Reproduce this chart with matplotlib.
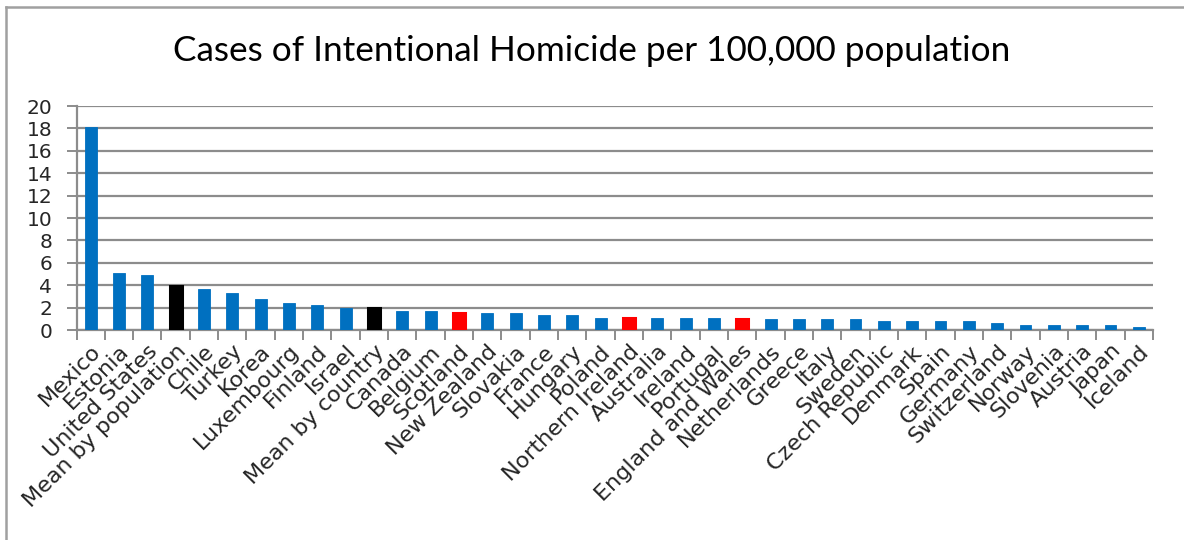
# Bar chart of intentional homicide rates, recreated from an Excel-style chart
import matplotlib
matplotlib.use("Agg")
import matplotlib.pyplot as plt
from matplotlib.lines import Line2D
import numpy as np

countries = ["Mexico", "Estonia", "United States", "Mean by population", "Chile",
             "Turkey", "Korea", "Luxembourg", "Finland", "Israel",
             "Mean by country", "Canada", "Belgium", "Scotland", "New Zealand",
             "Slovakia", "France", "Hungary", "Poland", "Northern Ireland",
             "Australia", "Ireland", "Portugal", "England and Wales", "Netherlands",
             "Greece", "Italy", "Sweden", "Czech Republic", "Denmark",
             "Spain", "Germany", "Switzerland", "Norway", "Slovenia",
             "Austria", "Japan", "Iceland"]
rates = [18.1, 5.1, 4.9, 3.9, 3.7,
         3.3, 2.8, 2.4, 2.2, 2.0,
         2.0, 1.7, 1.7, 1.5, 1.5,
         1.5, 1.3, 1.3, 1.1, 1.1,
         1.1, 1.1, 1.1, 0.95, 0.95,
         0.95, 0.95, 0.95, 0.8, 0.8,
         0.8, 0.8, 0.6, 0.45, 0.45,
         0.45, 0.45, 0.25]
means = ["Mean by population", "Mean by country"]
uk = ["Scotland", "Northern Ireland", "England and Wales"]

colors = []
for c in countries:
    if c in means:
        colors.append("black")
    elif c in uk:
        colors.append("#ff0000")
    else:
        colors.append("#0070c0")
lws = [2.2 if (c in means or c in uk) else 0.6 for c in countries]

fig = plt.figure(figsize=(11.84, 5.4), dpi=100)
ax = fig.add_axes([76.5 / 1184, 1 - 330 / 540, (1153 - 76.5) / 1184, 224 / 540])

x = np.arange(len(countries))
ax.bar(x, rates, width=0.42, color=colors, edgecolor=colors, linewidth=lws, zorder=3)

grey = "#8c8c8c"
ax.set_xlim(-0.5, len(countries) - 0.5)
ax.set_ylim(0, 20)
ax.set_yticks(np.arange(0, 21, 2))
ax.yaxis.grid(True, color=grey, lw=1.6, zorder=0)
for s in ["top", "right"]:
    ax.spines[s].set_visible(False)
for s in ["left", "bottom"]:
    ax.spines[s].set_color(grey)
    ax.spines[s].set_linewidth(1.6)

ax.set_xticks(x)
ax.set_xticklabels(countries, rotation=45, ha="right", va="top",
                   rotation_mode="anchor", fontsize=16, color="#262626")
ax.set_xticks(np.arange(-0.5, len(countries), 1), minor=True)
ax.tick_params(axis="x", which="major", length=0, pad=8)
ax.tick_params(axis="x", which="minor", length=7.5, width=1.4, color=grey, direction="out")
ax.tick_params(axis="y", length=7.5, width=1.4, color=grey, direction="out",
               labelsize=14.5, labelcolor="#262626", pad=10)

fig.text(0.5, 1 - 51 / 540, "Cases of Intentional Homicide per 100,000 population",
         ha="center", va="center", fontsize=25.3, family="Lato", color="black")

# outer chart frame (top and left edges visible)
fig.add_artist(Line2D([6 / 1184, 1.0], [1 - 7 / 540, 1 - 7 / 540], color="#a0a0a0", lw=1.8))
fig.add_artist(Line2D([6 / 1184, 6 / 1184], [0, 1 - 7 / 540], color="#a0a0a0", lw=1.8))

fig.savefig("out.png", dpi=100)
